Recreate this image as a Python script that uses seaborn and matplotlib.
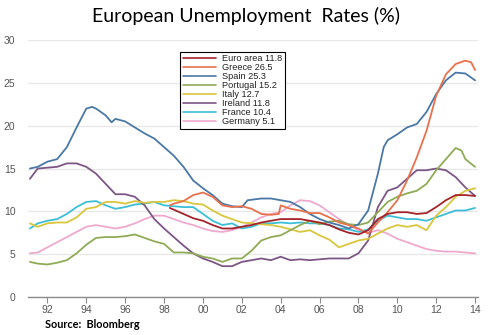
import matplotlib
matplotlib.use("Agg")
import matplotlib.pyplot as plt
import seaborn as sns
import pandas as pd

# Unemployment readings (%), year as decimal
euro_years = [1998.3, 1998.5, 1999.0, 1999.5, 2000.0, 2000.5, 2001.0, 2001.5, 2002.0, 2002.5,
              2003.0, 2003.5, 2004.0, 2004.5, 2005.0, 2005.5, 2006.0, 2006.5, 2007.0, 2007.5,
              2008.0, 2008.5, 2009.0, 2009.5, 2010.0, 2010.5, 2011.0, 2011.5, 2012.0, 2012.5,
              2013.0, 2013.5, 2014.0]
euro_vals = [10.4, 10.2, 9.7, 9.2, 8.9, 8.4, 8.0, 8.0, 8.2, 8.4,
             8.7, 8.9, 9.1, 9.1, 9.1, 8.9, 8.7, 8.4, 7.9, 7.5,
             7.3, 7.8, 9.1, 9.7, 9.9, 9.9, 9.7, 9.8, 10.5, 11.3,
             11.9, 11.9, 11.8]

greece_years = [1998.3, 1998.5, 1999.0, 1999.5, 2000.0, 2000.5, 2001.0, 2001.5, 2002.0, 2002.5,
                2003.0, 2003.5, 2003.9, 2004.0, 2004.5, 2005.0, 2005.5, 2006.0, 2006.5, 2007.0,
                2007.5, 2008.0, 2008.5, 2009.0, 2009.5, 2010.0, 2010.5, 2011.0, 2011.5, 2012.0,
                2012.5, 2013.0, 2013.5, 2013.8, 2014.0]
greece_vals = [10.7, 10.9, 11.2, 11.9, 12.2, 11.7, 10.7, 10.5, 10.6, 10.3,
               9.7, 9.6, 9.7, 10.7, 10.3, 10.1, 9.8, 9.8, 9.3, 8.7,
               8.4, 8.0, 7.4, 8.7, 9.9, 11.3, 13.6, 16.3, 19.4, 23.5,
               26.0, 27.2, 27.6, 27.4, 26.5]

spain_years = [1991.1, 1991.5, 1992.0, 1992.5, 1993.0, 1993.5, 1994.0, 1994.3, 1994.5, 1995.0,
               1995.3, 1995.5, 1996.0, 1996.5, 1997.0, 1997.5, 1998.0, 1998.5, 1999.0, 1999.5,
               2000.0, 2000.5, 2001.0, 2001.5, 2002.0, 2002.3, 2003.0, 2003.5, 2004.0, 2004.5,
               2005.0, 2005.5, 2006.0, 2006.5, 2007.0, 2007.5, 2008.0, 2008.5, 2009.0, 2009.3,
               2009.5, 2010.0, 2010.5, 2011.0, 2011.5, 2012.0, 2012.5, 2013.0, 2013.5, 2014.0]
spain_vals = [15.0, 15.2, 15.8, 16.1, 17.5, 19.8, 22.0, 22.2, 22.0, 21.2,
              20.4, 20.8, 20.5, 19.8, 19.1, 18.5, 17.5, 16.5, 15.2, 13.6,
              12.7, 11.9, 10.9, 10.6, 10.5, 11.3, 11.5, 11.5, 11.3, 11.1,
              10.5, 9.7, 9.1, 8.7, 8.4, 8.0, 8.5, 10.1, 14.4, 17.5,
              18.3, 19.0, 19.8, 20.2, 21.6, 23.7, 25.3, 26.2, 26.1, 25.3]

half_years = [1991.1, 1991.5, 1992.0, 1992.5, 1993.0, 1993.5, 1994.0, 1994.5, 1995.0, 1995.5,
              1996.0, 1996.5, 1997.0, 1997.5, 1998.0, 1998.5, 1999.0, 1999.5, 2000.0, 2000.5,
              2001.0, 2001.5, 2002.0, 2002.5, 2003.0, 2003.5, 2004.0, 2004.5, 2005.0, 2005.5,
              2006.0, 2006.5, 2007.0, 2007.5, 2008.0, 2008.5, 2009.0, 2009.5, 2010.0, 2010.5,
              2011.0, 2011.5, 2012.0, 2012.5, 2013.0, 2013.5, 2014.0]

portugal_years = half_years[:45] + [2013.3, 2013.5, 2014.0]
portugal_vals = [4.1, 3.9, 3.8, 4.0, 4.3, 5.1, 6.1, 6.9, 7.0, 7.0,
                 7.1, 7.3, 6.9, 6.5, 6.2, 5.2, 5.2, 5.1, 4.7, 4.5,
                 4.1, 4.5, 4.5, 5.4, 6.6, 7.0, 7.2, 7.8, 8.4, 8.9,
                 8.5, 8.8, 8.9, 8.5, 8.4, 8.7, 9.9, 11.1, 11.7, 12.1,
                 12.4, 13.2, 14.8, 16.1, 17.4, 17.1, 16.1, 15.2]

italy_vals = [8.6, 8.2, 8.6, 8.7, 8.7, 9.3, 10.3, 10.5, 11.1, 11.1,
              10.9, 11.2, 11.0, 11.1, 11.1, 11.3, 11.2, 10.9, 10.8, 10.1,
              9.5, 9.1, 8.7, 8.6, 8.5, 8.4, 8.2, 7.9, 7.6, 7.8,
              7.2, 6.7, 5.8, 6.2, 6.6, 6.8, 7.4, 8.0, 8.4, 8.2,
              8.4, 7.8, 9.5, 10.5, 11.7, 12.4, 12.7]

ireland_vals = [13.8, 15.0, 15.1, 15.2, 15.6, 15.6, 15.2, 14.4, 13.2, 12.0,
                12.0, 11.7, 10.7, 9.1, 8.0, 7.0, 6.0, 5.1, 4.5, 4.1,
                3.6, 3.6, 4.1, 4.3, 4.5, 4.3, 4.7, 4.3, 4.4, 4.3,
                4.4, 4.5, 4.5, 4.5, 5.1, 6.6, 10.5, 12.4, 12.8, 13.8,
                14.8, 14.8, 15.0, 14.8, 14.0, 12.8, 11.8]

france_vals = [8.0, 8.6, 8.9, 9.1, 9.7, 10.5, 11.1, 11.2, 10.7, 10.3,
               10.5, 10.8, 10.9, 11.1, 10.7, 10.6, 10.5, 10.5, 9.7, 8.9,
               8.4, 8.6, 8.0, 8.2, 8.6, 8.6, 8.7, 8.6, 8.7, 8.6,
               8.6, 8.4, 8.0, 7.9, 7.6, 7.9, 8.9, 9.5, 9.3, 9.1,
               9.1, 8.9, 9.3, 9.7, 10.1, 10.1, 10.4]

germany_vals = [5.1, 5.2, 5.8, 6.4, 7.0, 7.6, 8.2, 8.4, 8.2, 8.0,
                8.2, 8.6, 9.1, 9.5, 9.5, 9.1, 8.7, 8.4, 8.0, 7.7,
                7.6, 7.8, 8.2, 8.7, 9.3, 9.7, 9.9, 10.7, 11.3, 11.2,
                10.7, 9.9, 9.1, 8.4, 7.8, 7.5, 7.8, 7.4, 6.8, 6.4,
                6.0, 5.6, 5.4, 5.3, 5.3, 5.2, 5.1]

series_names = ["Euro area 11.8", "Greece 26.5", "Spain 25.3", "Portugal 15.2",
                "Italy 12.7", "Ireland 11.8", "France 10.4", "Germany 5.1"]
series_years = [euro_years, greece_years, spain_years, portugal_years,
                half_years, half_years, half_years, half_years]
series_vals = [euro_vals, greece_vals, spain_vals, portugal_vals,
               italy_vals, ireland_vals, france_vals, germany_vals]
colors = ["#a3252b", "#e8714c", "#4a78a6", "#8fab55",
          "#d9c63c", "#7c5685", "#3cbfd6", "#efa9cf"]

frames = [pd.DataFrame({"year": y, "rate": v, "series": n})
          for n, y, v in zip(series_names, series_years, series_vals)]
df = pd.concat(frames, ignore_index=True)

sns.set_theme(style="white")
plt.rcParams["font.family"] = ["Liberation Sans", "DejaVu Sans"]

fig = plt.figure(figsize=(4.91, 3.35), dpi=100)
ax = fig.add_axes([0.057, 0.1134, 0.9165, 0.767])

sns.lineplot(data=df, x="year", y="rate", hue="series", hue_order=series_names,
             palette=colors, estimator=None, sort=False, linewidth=1.3, ax=ax)

# keep euro area on top of the national series
lines = ax.get_lines()
for i, ln in enumerate(lines[:len(series_names)]):
    ln.set_zorder(10 - i)

ax.set_xlim(1991.0, 2014.15)
ax.set_ylim(0, 30)
ax.set_yticks([0, 5, 10, 15, 20, 25, 30])
ax.set_xticks([1992, 1994, 1996, 1998, 2000, 2002, 2004, 2006, 2008, 2010, 2012, 2014])
ax.set_xticklabels(["92", "94", "96", "98", "00", "02", "04", "06", "08", "10", "12", "14"])
ax.set_xlabel("")
ax.set_ylabel("")
ax.grid(axis="y", color="#e8e8e8", linewidth=1.0)
ax.grid(axis="x", visible=False)
ax.set_axisbelow(True)
for s in ["top", "right", "left"]:
    ax.spines[s].set_visible(False)
ax.spines["bottom"].set_color("#8c8c8c")
ax.spines["bottom"].set_linewidth(1.0)
ax.tick_params(axis="x", direction="out", length=4, width=0.8, color="#8c8c8c",
               labelsize=7.5, labelcolor="#555555", pad=1.5, bottom=True)
ax.tick_params(axis="y", length=0, labelsize=7.5, labelcolor="#555555", pad=9)

leg = ax.legend(loc="upper left", bbox_to_anchor=(0.338, 0.955), fontsize=6.6,
                frameon=True, fancybox=False, edgecolor="black", framealpha=1,
                labelspacing=0.0, handlelength=3.6, handletextpad=0.7,
                borderpad=0.3, borderaxespad=0)
leg.get_frame().set_linewidth(0.8)
for h in leg.get_lines():
    h.set_linewidth(1.2)
for t in leg.get_texts():
    t.set_color("#222222")

fig.text(0.5, 0.952, "European Unemployment  Rates (%)", ha="center", va="center",
         fontsize=14, family=["Lato", "DejaVu Sans"], color="black")
fig.text(0.092, 0.03, "Source:  Bloomberg", ha="left", va="center",
         fontsize=7.8, fontweight="bold", family=["Lato", "DejaVu Sans"], color="black")

fig.savefig("out.png", dpi=100)
